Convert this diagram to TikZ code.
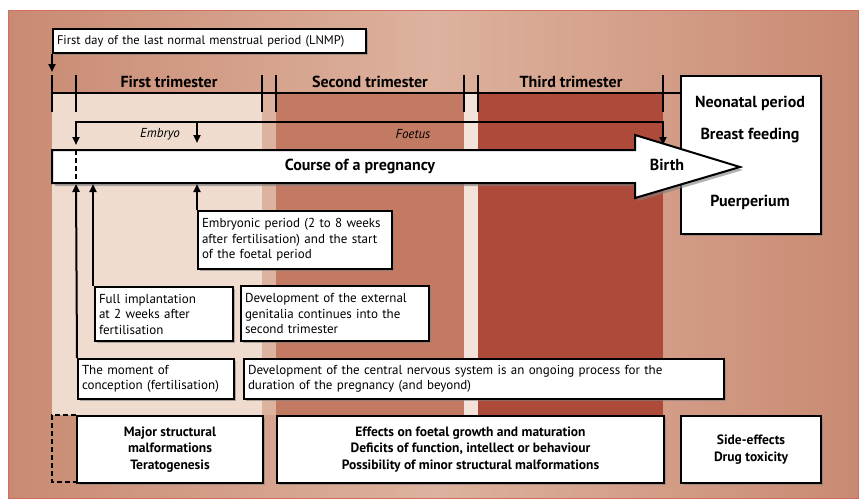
\documentclass[tikz,border=0pt]{standalone}
\usepackage{fontspec}
\setmainfont{PT Sans}
\usetikzlibrary{shadows,arrows.meta}
\definecolor{bgA}{HTML}{C98A73}
\definecolor{bgB}{HTML}{DDB29E}
\definecolor{tA}{HTML}{EFDCCF}
\definecolor{gA}{HTML}{DDB3A0}
\definecolor{tB}{HTML}{C27A62}
\definecolor{gB}{HTML}{F3E3DA}
\definecolor{tC}{HTML}{AD4A3A}
\tikzset{
 box/.style={draw=black,line width=2pt,fill=white,drop shadow={shadow xshift=2pt,shadow yshift=-2pt,opacity=.6},inner xsep=4pt,inner ysep=2pt,align=left,font=\fontsize{13}{15.5}\selectfont},
 bbox/.style={box,align=center,font=\fontsize{13.5}{16.5}\selectfont\bfseries},
 ln/.style={line width=2pt},
 arr/.style={ln,-{Triangle[length=8pt,width=7pt]}},
 tri/.style={font=\fontsize{16}{18}\selectfont\bfseries},
}
\begin{document}
\begin{tikzpicture}[x=1pt,y=-1pt]
\useasboundingbox (0,0) rectangle (865,501);
\fill[white] (0,0) rectangle (865,501);
\shade[left color=bgA,right color=bgA,middle color=bgB,draw=bgA!80!red,line width=1pt] (8,10) rectangle (858,498);
% region fills
\fill[tA] (52,93) rectangle (262,415);
\fill[gA] (262,93) rectangle (276,415);
\fill[tB] (276,93) rectangle (464,415);
\fill[gB] (464,93) rectangle (478,415);
\fill[tC] (478,93) rectangle (663,415);
% LNMP
\node[box,anchor=north west,minimum width=313pt,minimum height=24pt,text width=305pt,font=\fontsize{12.5}{15}\selectfont] (lnmp) at (52,28) {First day of the last normal menstrual period (LNMP)};
\coordinate (l1) at (52,72);
\draw[arr] (lnmp.south west) -- (l1);
% trimester line
\coordinate (t0) at (52,93); \coordinate (t1) at (680,93);
\draw[ln] (t0) -- (t1);
\foreach \x in {52,76,262,276,464,478,663} \draw[ln] (\x,75) -- (\x,112);
\node[tri] (f1) at (169,82) {First trimester};
\node[tri] (f2) at (370,82) {Second trimester};
\node[tri] (f3) at (571,82) {Third trimester};
% embryo/foetus bracket
\coordinate (e0) at (76,122); \coordinate (e1) at (663,122);
\coordinate (e0b) at (76,145); \coordinate (e1b) at (663,145);
\coordinate (em) at (197,122); \coordinate (emb) at (197,143);
\draw[ln] (76,131) -- (e0) -- (e1) -- (663,131);
\draw[arr] (76,130) -- (e0b);
\draw[arr] (663,130) -- (e1b);
\draw[arr] (em) -- (emb);
\node[font=\fontsize{13}{15}\selectfont\itshape] (emt) at (160,134) {Embryo};
\node[font=\fontsize{13}{15}\selectfont\itshape] (fot) at (413,134) {Foetus};
% right box
\node[box,anchor=north west,minimum width=140pt,minimum height=158pt] (post) at (680,75) {};
\node[tri] (np) at (750,103) {Neonatal period};
\node[tri] (bf) at (750,136) {Breast feeding};
\node[tri] (pu) at (750,202) {Puerperium};
% big arrow
\draw[line width=2pt,fill=white,drop shadow={shadow xshift=3pt,shadow yshift=-3pt,opacity=.6}] (52,150) -- (635,150) -- (635,135) -- (740,167) -- (635,198) -- (635,183) -- (52,183) -- cycle;
\draw[ln,dash pattern=on 5pt off 3pt] (76,150) -- (76,183);
\node[tri] (course) at (360,166) {Course of a pregnancy};
\node[tri] (birth) at (667,165) {Birth};
% text boxes
\node[box,anchor=north west,minimum width=194pt,minimum height=58pt,text width=186pt] (emp) at (197,210) {Embryonic period (2 to 8 weeks\\after fertilisation) and the start\\of the foetal period};
\node[box,anchor=north west,minimum width=138pt,minimum height=54pt,text width=130pt] (imp) at (94,286) {Full implantation\\at 2 weeks after\\fertilisation};
\node[box,anchor=north west,minimum width=188pt,minimum height=55pt,text width=180pt] (gen) at (240,285) {Development of the external\\genitalia continues into the\\second trimester};
\node[box,anchor=north west,minimum width=156pt,minimum height=40pt,text width=148pt] (con) at (77,358) {The moment of\\conception (fertilisation)};
\node[box,anchor=north west,minimum width=480pt,minimum height=40pt,text width=472pt] (cns) at (243,358) {Development of the central nervous system is an ongoing process for the\\duration of the pregnancy (and beyond)};
\coordinate (a1) at (76,184); \coordinate (a2) at (93,184); \coordinate (a3) at (197,184);
\draw[arr] (con.north west) -- (a1);
\draw[arr] (imp.north west) ++(-1,0) -- (a2);
\draw[arr] (emp.north west) -- (a3);
% bottom boxes
\draw[ln,dash pattern=on 5pt off 3pt] (76,415) -- (52,415) -- (52,482) -- (76,482);
\node[bbox,anchor=north west,minimum width=186pt,minimum height=67pt] (b1) at (76,415) {Major structural\\malformations\\Teratogenesis};
\node[bbox,anchor=north west,minimum width=387pt,minimum height=67pt] (b2) at (276,415) {Effects on foetal growth and maturation\\Deficits of function, intellect or behaviour\\Possibility of minor structural malformations};
\node[bbox,anchor=north west,minimum width=140pt,minimum height=67pt] (b3) at (680,415) {Side-effects\\Drug toxicity};
\end{tikzpicture}
\end{document}
